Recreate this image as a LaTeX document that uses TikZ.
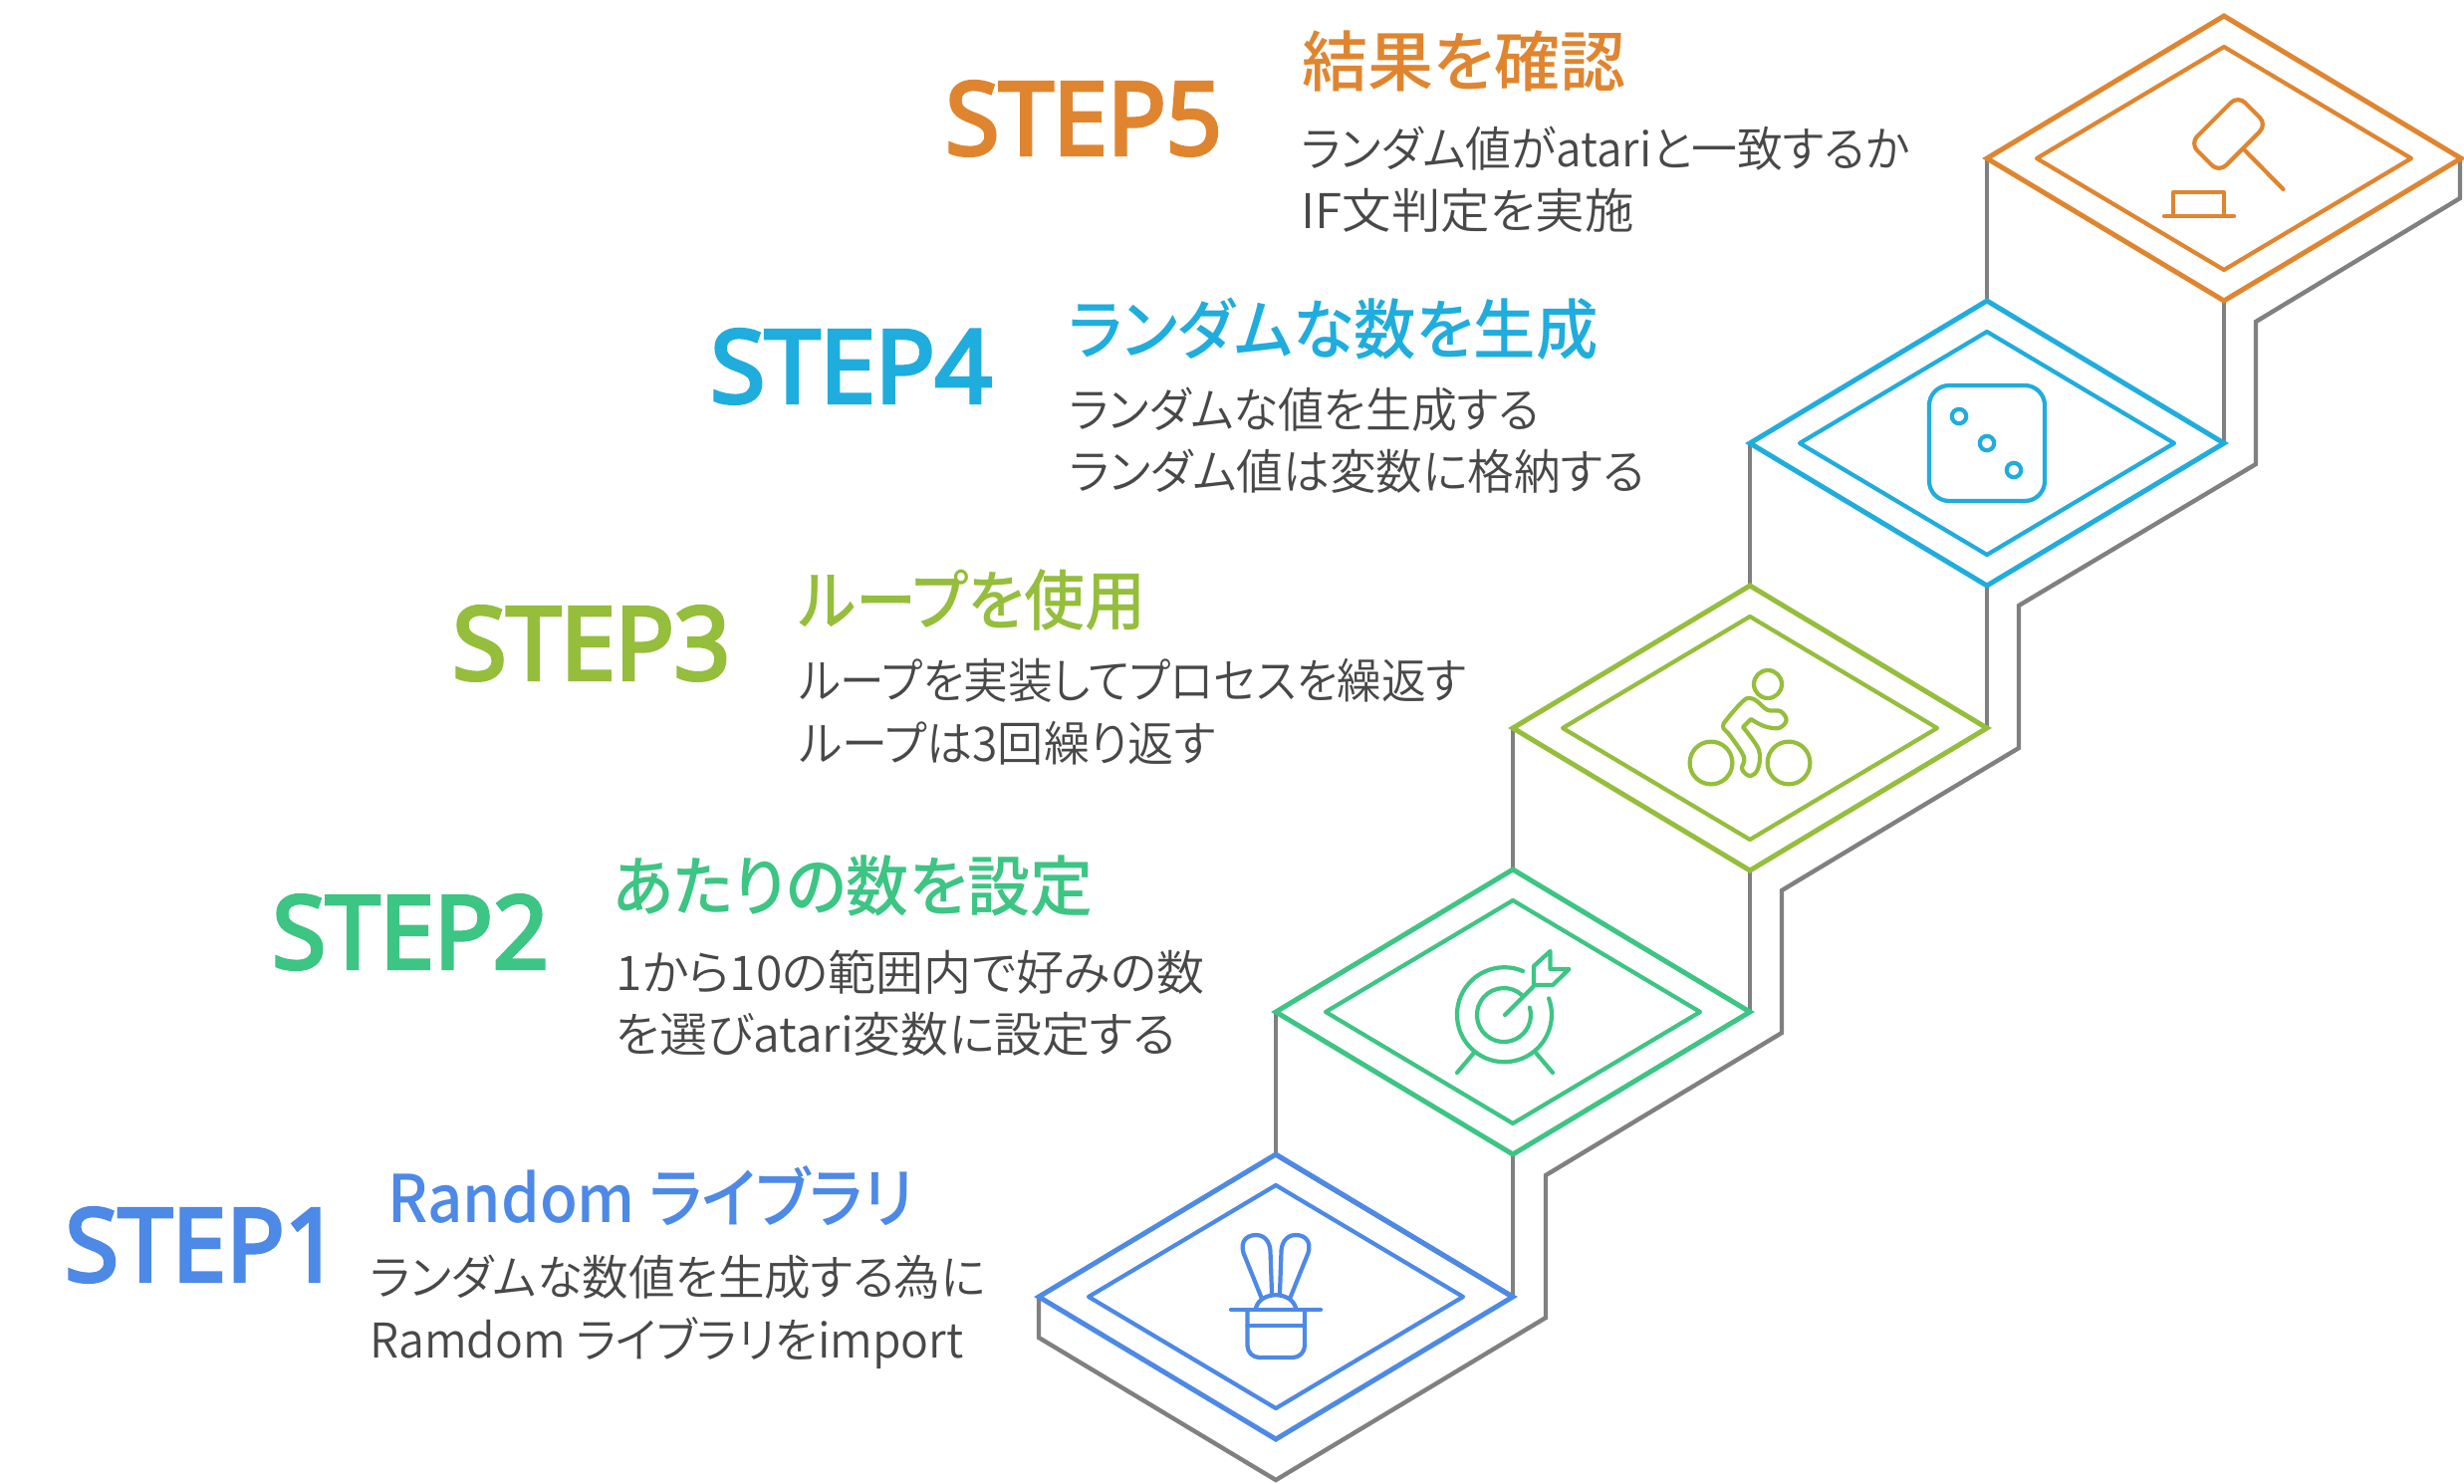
\documentclass[tikz,border=0pt]{standalone}
\usepackage{fontspec}
\setmainfont{Noto Sans CJK JP}[RawFeature=+palt]
\newfontfamily\bodyfont{Noto Sans CJK JP DemiLight}[RawFeature=+palt]
\newfontfamily\titlefont{Noto Sans CJK JP Medium}[RawFeature=+palt]
\newfontfamily\stepfont{Open Sans}[FakeBold=4,FakeStretch=0.965]
\newcommand{\fitx}[2]{\scalebox{#1}[1]{#2}}
\definecolor{stepblue}{HTML}{4D89E6}
\definecolor{stepgreen}{HTML}{3CC583}
\definecolor{steplime}{HTML}{94BE3B}
\definecolor{stepcyan}{HTML}{1FADDD}
\definecolor{steporange}{HTML}{E0852F}
\definecolor{wallgray}{HTML}{808080}
\definecolor{bodygray}{HTML}{484848}
\tikzset{
    wall/.style={wallgray, line width=2.2pt, line join=miter},
    outer/.style={line width=2.5pt, line join=miter},
    inner/.style={line width=2.1pt, line join=round},
    icon/.style={line width=2.1pt, line join=round, line cap=round},
    steplabel/.style={anchor=base west, inner sep=0pt, font=\stepfont\fontsize{50.5}{50.5}\selectfont},
    steptitle/.style={anchor=base west, inner sep=0pt, font=\titlefont\fontsize{33}{33}\selectfont},
    stepbody/.style={anchor=base west, inner sep=0pt, text=bodygray, font=\bodyfont\fontsize{24}{24}\selectfont},
}
\begin{document}
\begin{tikzpicture}[x=0.5pt,y=-0.5pt]
    \useasboundingbox (0,0) rectangle (2474,1489);
    % walls
    \draw[wall] (1043,1302) -- (1043,1343) -- (1281,1486) -- (1552,1323) -- (1552,1180) -- (1789,1037) -- (1789,894)
        -- (2027,751) -- (2027,608) -- (2265,466) -- (2265,323) -- (2470,199) -- (2470,159);
    \foreach \cx/\cy in {1519/1016,1757/731,1995/445,2233/159}{
        \draw[wall] (\cx-238,\cy) -- (\cx-238,\cy+143);
        \draw[wall] (\cx,\cy+143) -- (\cx,\cy+286);
    }
    \draw[wall, line width=1pt] (1281,1161) -- (1519,1304);
    % steps
    \foreach \cx/\cy/\col in {1281/1302/stepblue,1519/1016/stepgreen,1757/731/steplime,1995/445/stepcyan,2233/159/steporange}{
        \draw[outer, \col] (\cx-238,\cy) -- (\cx,\cy-143) -- (\cx+238,\cy) -- (\cx,\cy+143) -- cycle;
        \draw[inner, \col] (\cx-188,\cy) -- (\cx,\cy-112) -- (\cx+188,\cy) -- (\cx,\cy+112) -- cycle;
    }
    % hat
    \draw[icon, stepblue] (1236,1315) -- (1326,1315);
    \draw[icon, stepblue, rounded corners=6pt] (1252.5,1315) -- (1252.5,1363) -- (1310,1363) -- (1310,1315);
    \draw[icon, stepblue] (1252.5,1331) -- (1310,1331);
    \draw[icon, stepblue] (1261,1313) .. controls (1266,1296) and (1296,1296) .. (1301,1313);
    \draw[icon, stepblue] (1266.6,1303) -- (1248.5,1258) .. controls (1245,1246) and (1252,1240) .. (1261,1240)
        .. controls (1270,1240) and (1275,1247) .. (1275.5,1256) -- (1277,1298);
    \draw[icon, stepblue] (1295.4,1303) -- (1313.5,1258) .. controls (1317,1246) and (1310,1240) .. (1301,1240)
        .. controls (1292,1240) and (1287,1247) .. (1286.5,1256) -- (1285,1298);
    % target
    \draw[icon, stepgreen] (1529,975) arc[start angle=67, end angle=380, radius=23.75pt];
    \draw[icon, stepgreen] (1528,999) arc[start angle=48, end angle=376, radius=13.5pt];
    \draw[icon, stepgreen] (1511,1019) -- (1540,990);
    \draw[icon, stepgreen] (1540,989) -- (1540,970) -- (1556.5,955) -- (1556.5,973) -- (1575.5,973) -- (1559,989) -- cycle;
    \draw[icon, stepgreen] (1480,1057) -- (1463,1077);
    \draw[icon, stepgreen] (1542,1057) -- (1559,1077);
    % bike
    \draw[icon, steplime] (1775,687) circle [radius=7pt];
    \draw[icon, steplime] (1718,766) circle [radius=10.7pt];
    \draw[icon, steplime] (1796,766) circle [radius=10.7pt];
    \draw[icon, steplime] plot[smooth, tension=.6] coordinates {(1758,722) (1771,729) (1786,731) (1793.6,723) (1787.5,714) (1775,713)
        (1764,704) (1757,701) (1750,704) (1734,722) (1730,730) (1737.5,739) (1751,760) (1749,772) (1757,779) (1765,772) (1766,753) (1750,730)} -- cycle;
    % dice
    \draw[icon, stepcyan, rounded corners=10pt] (1937,387) rectangle (2053,503);
    \draw[icon, stepcyan] (1967,418) circle [radius=3.6pt];
    \draw[icon, stepcyan] (1995,445) circle [radius=3.6pt];
    \draw[icon, stepcyan] (2022,472) circle [radius=3.6pt];
    % gavel
    \draw[icon, steporange, rounded corners=5pt] (2247,96) -- (2276,125) -- (2228,173) -- (2199,144) -- cycle;
    \draw[icon, steporange] (2253,150) -- (2292.5,190);
    \draw[icon, steporange] (2182,217) -- (2182,193) -- (2233,193) -- (2233,217);
    \draw[icon, steporange] (2173,217) -- (2243,217);
    % texts
    \node[steplabel, stepblue] (label1) at (65,1286) {STEP1};
    \node[steptitle, stepblue] (title1) at (389,1227) {\fitx{.933}{Random ライブラリ}};
    \node[stepbody] (body1a) at (371,1300) {\fitx{.97}{ランダムな数値を生成する為に}};
    \node[stepbody] (body1b) at (371,1363) {\fitx{.967}{Ramdom ライブラリをimport}};
    \node[steplabel, stepgreen] (label2) at (273,972) {\fitx{1.005}{STEP2}};
    \node[steptitle, stepgreen] (title2) at (615,914) {\fitx{.955}{あたりの数を設定}};
    \node[stepbody] (body2a) at (618,994) {1から10の範囲内で好みの数};
    \node[stepbody] (body2b) at (618,1056) {\fitx{.997}{を選びatari変数に設定する}};
    \node[steplabel, steplime] (label3) at (454,682) {\fitx{1.01}{STEP3}};
    \node[steptitle, steplime] (title3) at (802,627) {\fitx{.924}{ループを使用}};
    \node[stepbody] (body3a) at (802,701) {\fitx{.93}{ループを実装してプロセスを繰返す}};
    \node[stepbody] (body3b) at (802,764) {\fitx{.96}{ループは3回繰り返す}};
    \node[steplabel, stepcyan] (label4) at (713,404) {\fitx{1.023}{STEP4}};
    \node[steptitle, stepcyan] (title4) at (1073,355) {\fitx{.946}{ランダムな数を生成}};
    \node[stepbody] (body4a) at (1073,429) {\fitx{.955}{ランダムな値を生成する}};
    \node[stepbody] (body4b) at (1073,491) {\fitx{.973}{ランダム値は変数に格納する}};
    \node[steplabel, steporange] (label5) at (949,155) {\fitx{1.005}{STEP5}};
    \node[steptitle, steporange] (title5) at (1307,86) {結果を確認};
    \node[stepbody] (body5a) at (1306,167) {\fitx{.955}{ランダム値がatariと一致するか}};
    \node[stepbody] (body5b) at (1306,229) {\fitx{1.03}{IF文判定を実施}};
\end{tikzpicture}
\end{document}
